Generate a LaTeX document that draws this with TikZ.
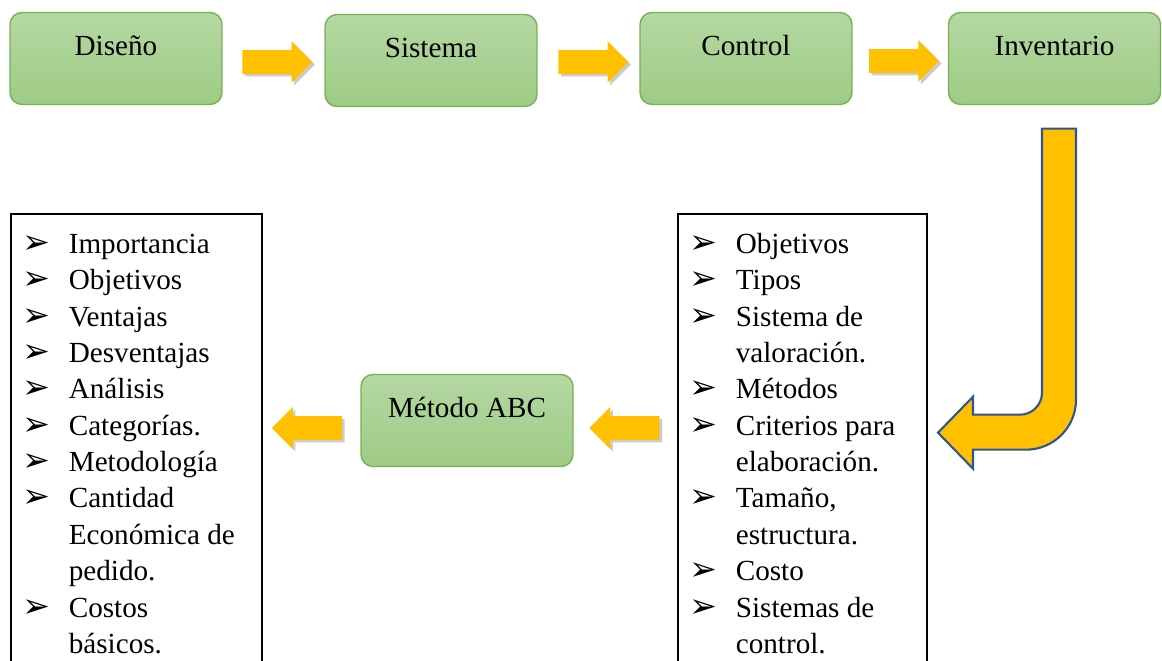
\documentclass[tikz,border=0pt]{standalone}
\usepackage{fontspec}
\setmainfont{Liberation Serif}
\newfontfamily\bulfont{DejaVu Sans}
\usepackage{tikz}
\usetikzlibrary{shapes.arrows}
\usetikzlibrary{shadows}
\usetikzlibrary{calc}
\usepackage{xcolor}
\definecolor{boxtop}{HTML}{B5D8A3}
\definecolor{boxbot}{HTML}{9ECB84}
\definecolor{boxline}{HTML}{76B153}
\definecolor{gold}{HTML}{FFC000}
\definecolor{bentline}{HTML}{2F5597}

\newcommand{\bul}{{\bulfont\fontsize{19pt}{19pt}\selectfont ➢}}
\newcommand{\itm}[1]{\makebox[1.17cm][l]{\hspace{0.24cm}\bul}#1}
\newcommand{\cnt}[1]{\hspace*{1.17cm}#1}

\begin{document}
\begin{tikzpicture}[x=0.02cm,y=-0.02cm,
stage/.style={rounded corners=0.24cm, draw=boxline, line width=0.8pt, top color=boxtop, bottom color=boxbot, minimum width=4.24cm, minimum height=1.84cm, text height=0.4cm, text depth=0.52cm, font=\fontsize{16.6pt}{20pt}\selectfont},
goldarrow/.style={single arrow, fill=gold, minimum height=1.4cm, inner xsep=0pt, inner ysep=0.23cm, single arrow head extend=0.18cm, drop shadow={shadow xshift=1.5pt, shadow yshift=-1.5pt, opacity=0.2, fill=black}},
listbox/.style={draw, line width=1.4pt, anchor=north west, minimum height=10cm},
listtext/.style={anchor=north west, inner sep=0pt, align=left, font=\fontsize{16.6pt}{20.7pt}\selectfont}]
\useasboundingbox (0,0) rectangle (1162,661);

\node[stage] (dis) at (116,58.5) {Diseño};
\node[stage] (sis) at (431,60.5) {Sistema};
\node[stage] (con) at (746,58.5) {Control};
\node[stage] (inv) at (1054.5,58.5) {Inventario};
\node[stage] (abc) at (467,420.5) {Método ABC};

\node[listbox, minimum width=5.02cm] (lbox) at (10,213) {};
\node[listbox, minimum width=4.98cm] (rbox) at (677,213) {};

% first line carries a strut of 0.5cm, so its baseline sits 39px below the box top
\node[listtext] (ltxt) at ($(lbox.north west)+(0,15)$) {\rule{0pt}{0.5cm}\itm{Importancia}\\ \itm{Objetivos}\\ \itm{Ventajas}\\ \itm{Desventajas}\\ \itm{Análisis}\\ \itm{Categorías.}\\ \itm{Metodología}\\ \itm{Cantidad}\\ \cnt{Económica de}\\ \cnt{pedido.}\\ \itm{Costos}\\ \cnt{básicos.}};
\node[listtext] (rtxt) at ($(rbox.north west)+(0,15)$) {\rule{0pt}{0.5cm}\itm{Objetivos}\\ \itm{Tipos}\\ \itm{Sistema de}\\ \cnt{valoración.}\\ \itm{Métodos}\\ \itm{Criterios para}\\ \cnt{elaboración.}\\ \itm{Tamaño,}\\ \cnt{estructura.}\\ \itm{Costo}\\ \itm{Sistemas de}\\ \cnt{control.}};

\node[goldarrow] (a1) at ($(dis.east)!0.5!(sis.west)+(-2,2.5)$) {};
\node[goldarrow] (a2) at ($(sis.east)!0.5!(con.west)+(-1,2.5)$) {};
\node[goldarrow] (a3) at ($(con.east)!0.5!(inv.west)+(-2,2.5)$) {};
\node[goldarrow, shape border rotate=180] (a4) at ($(abc.east)!0.5!(abc.east -| rbox.west)+(5,7.5)$) {};
\node[goldarrow, shape border rotate=180] (a5) at ($(abc.west)!0.5!(abc.west -| lbox.east)+(1,7.5)$) {};

% bent arrow from Inventario down to the list
\filldraw[fill=gold, draw=bentline, line width=1.2pt, line join=miter]
($(inv.south)+(-12.5,23.5)$) -- ++(34,0) -- ++(0,271)
.. controls +(0,27.6) and +(27.6,0) .. ++(-50,50)
-- ++(-53,0) -- ++(0,19) -- ++(-35,-36) -- ++(35,-36) -- ++(0,18) -- ++(47,0)
.. controls +(12.1,0) and +(0,12.1) .. ++(22,-22) -- cycle;
\end{tikzpicture}
\end{document}
